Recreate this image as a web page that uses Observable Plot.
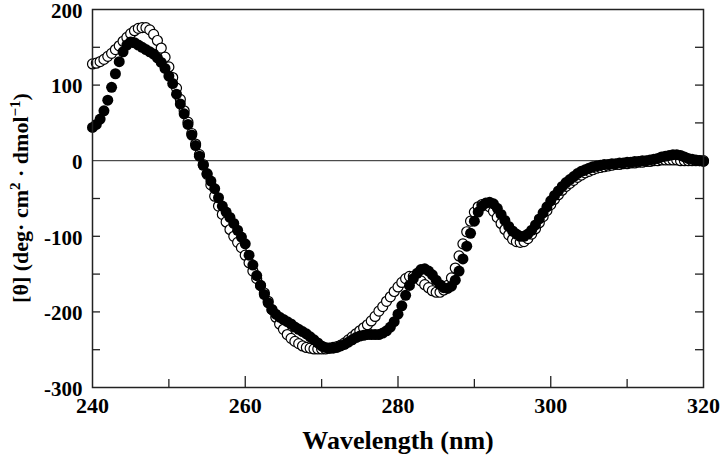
<!DOCTYPE html>
<html>
<head>
<meta charset="utf-8">
<script src="https://cdn.jsdelivr.net/npm/d3@7"></script>
<script src="https://cdn.jsdelivr.net/npm/@observablehq/plot@0.6"></script>
<style>
  html, body { margin: 0; padding: 0; background: #fff; }
</style>
</head>
<body>
<div id="chart"></div>
<script>
// Wavelengths (nm), sampled every 0.5 nm
const wavelength = [
  240,240.5,241,241.5,242,242.5,243,243.5,244,244.5,245,245.5,246,246.5,247,247.5,248,248.5,249,249.5,
  250,250.5,251,251.5,252,252.5,253,253.5,254,254.5,255,255.5,256,256.5,257,257.5,258,258.5,259,259.5,
  260,260.5,261,261.5,262,262.5,263,263.5,264,264.5,265,265.5,266,266.5,267,267.5,268,268.5,269,269.5,
  270,270.5,271,271.5,272,272.5,273,273.5,274,274.5,275,275.5,276,276.5,277,277.5,278,278.5,279,279.5,
  280,280.5,281,281.5,282,282.5,283,283.5,284,284.5,285,285.5,286,286.5,287,287.5,288,288.5,289,289.5,
  290,290.5,291,291.5,292,292.5,293,293.5,294,294.5,295,295.5,296,296.5,297,297.5,298,298.5,299,299.5,
  300,300.5,301,301.5,302,302.5,303,303.5,304,304.5,305,305.5,306,306.5,307,307.5,308,308.5,309,309.5,
  310,310.5,311,311.5,312,312.5,313,313.5,314,314.5,315,315.5,316,316.5,317,317.5,318,318.5,319,319.5,
  320
];

// Filled circles series
const filledTheta = [
  44,48,55,66,80,97,115,131,144,153,157,156,153,150,147,144,141,136,130,122,
  112,102,88,75,62,48,34,20,6,-6,-17,-27,-37,-49,-60,-68,-75,-83,-92,-101,
  -110,-125,-138,-152,-165,-177,-188,-197,-203,-207,-210,-213,-216,-220,-223,-226,-229,-233,-237,-241,
  -245,-247,-248,-248,-247,-245,-243,-240,-237,-234,-232,-231,-230,-230,-230,-230,-228,-225,-220,-213,
  -203,-192,-178,-165,-156,-149,-144,-143,-146,-151,-158,-164,-168,-169,-166,-158,-146,-130,-113,-96,
  -80,-68,-60,-56,-55,-57,-63,-71,-79,-87,-93,-97,-100,-100,-97,-92,-85,-77,-69,-61,
  -53,-46,-40,-34,-29,-25,-21,-17,-14,-12,-10,-8,-7,-6,-5,-5,-4,-4,-3,-3,
  -2,-2,-1,-1,0,0,1,2,3,5,6,7,8,8,7,5,3,2,1,0,
  -1
];

// Open circles series
const openTheta = [
  128,129,131,134,138,142,147,152,158,163,168,172,175,176,176,173,167,159,149,137,
  124,110,96,81,66,51,36,22,8,-5,-18,-32,-47,-60,-71,-81,-91,-100,-108,-115,
  -125,-135,-146,-156,-165,-175,-186,-197,-207,-216,-223,-230,-235,-239,-242,-245,-247,-248,-249,-249,
  -249,-249,-248,-247,-246,-244,-241,-237,-233,-229,-225,-221,-217,-212,-206,-199,-193,-186,-180,-173,
  -167,-161,-156,-153,-153,-155,-159,-164,-168,-172,-174,-174,-171,-165,-155,-142,-126,-110,-94,-80,
  -68,-61,-58,-58,-61,-67,-75,-83,-91,-98,-104,-107,-108,-107,-103,-97,-90,-82,-74,-66,
  -58,-51,-45,-39,-34,-30,-26,-22,-19,-16,-14,-12,-10,-9,-8,-7,-6,-5,-5,-4,
  -4,-3,-3,-2,-2,-1,-1,0,0,1,1,1,1,1,0,0,0,0,0,0,
  0
];

const yTickLabels = [-300, -200, -100, 0, 100, 200];
const yTickMarks = [-250, -200, -150, -100, -50, 50, 100, 150];
const xTickLabels = [240, 260, 280, 300, 320];
const xMajorTicks = [260, 280, 300];
const xMinorTicks = [250, 270, 290, 310];
const xTitle = "Wavelength (nm)";

const openData = wavelength.map((w, i) => ({w, v: openTheta[i]}));
const filledData = wavelength.map((w, i) => ({w, v: filledTheta[i]}));

const fmt = d => String(d);

const chart = Plot.plot({
  width: 720,
  height: 458,
  marginLeft: 92,
  marginRight: 17,
  marginTop: 9,
  marginBottom: 71,
  style: {fontFamily: "'Liberation Serif', 'Times New Roman', serif", fontSize: "22px", fontWeight: "bold", color: "#000", background: "#fff"},
  x: {domain: [240, 320], axis: null},
  y: {domain: [-300, 200], axis: null},
  marks: [
    // tick labels
    Plot.axisY(yTickLabels, {anchor: "left", tickSize: 0, tickPadding: 10, tickFormat: fmt, label: null, fontSize: 21, fontWeight: "bold", dy: 1.5}),
    Plot.axisX(xTickLabels, {anchor: "bottom", tickSize: 0, tickPadding: 10, tickFormat: fmt, label: null, fontSize: 22, fontWeight: "bold"}),
    // inward tick marks
    Plot.axisY(yTickMarks, {anchor: "left", tickSize: -8, tickFormat: () => "", label: null, stroke: "#222", strokeWidth: 1.3}),
    Plot.axisY(yTickMarks, {anchor: "right", tickSize: -9, tickFormat: () => "", label: null, stroke: "#222", strokeWidth: 1.3}),
    Plot.axisX(xMajorTicks, {anchor: "bottom", tickSize: -11, tickFormat: () => "", label: null, stroke: "#222", strokeWidth: 1.3}),
    Plot.axisX(xMinorTicks, {anchor: "bottom", tickSize: -8, tickFormat: () => "", label: null, stroke: "#222", strokeWidth: 1.3}),
    Plot.ruleY([0], {stroke: "#222", strokeWidth: 1}),
    Plot.dot(openData, {x: "w", y: "v", r: 5, fill: "#fff", stroke: "#000", strokeWidth: 1.2}),
    Plot.dot(filledData, {x: "w", y: "v", r: 5.5, fill: "#000", stroke: "none"}),
    Plot.frame({stroke: "#222", strokeWidth: 1.5}),
    Plot.text([xTitle], {frameAnchor: "bottom", dy: 61, text: d => d, fontSize: 26, fontWeight: "bold", lineAnchor: "bottom"})
  ]
});

document.getElementById("chart").appendChild(chart);

// Y-axis title with superscripts, as real text
const svg = d3.select(chart);
const yTitle = svg.append("text")
  .attr("transform", "translate(28,198) rotate(-90)")
  .attr("text-anchor", "middle")
  .attr("font-family", "'Liberation Serif', 'Times New Roman', serif")
  .attr("font-size", 22)
  .attr("font-weight", "bold")
  .attr("fill", "#000");
yTitle.append("tspan").text("[\u03B8] (deg\u00B7 cm");
yTitle.append("tspan").attr("font-size", 15).attr("dy", -8).text("2");
yTitle.append("tspan").attr("dy", 8).text(" \u00B7 dmol");
yTitle.append("tspan").attr("font-size", 15).attr("dy", -8).text("\u22121");
yTitle.append("tspan").attr("dy", 8).text(")");
</script>
</body>
</html>
